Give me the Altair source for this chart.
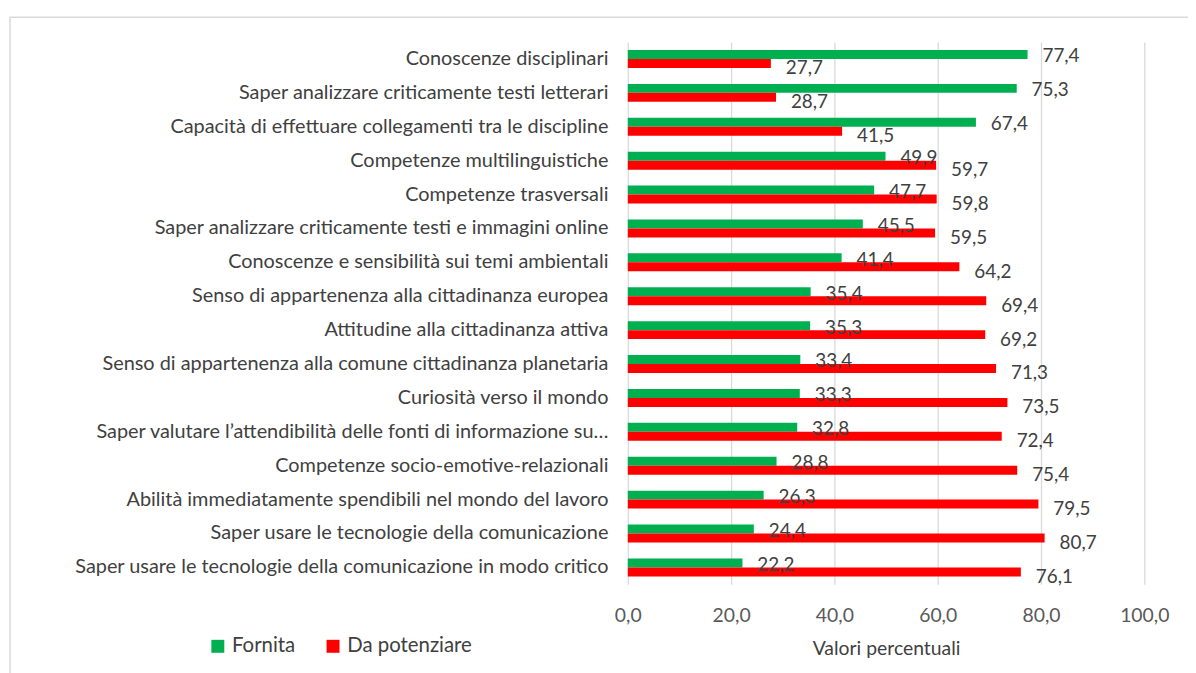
import altair as alt
import pandas as pd

categorie = [
    "Conoscenze disciplinari",
    "Saper analizzare criticamente testi letterari ",
    "Capacità di effettuare collegamenti tra le discipline",
    "Competenze multilinguistiche",
    "Competenze trasversali",
    "Saper analizzare criticamente testi e immagini online",
    "Conoscenze e sensibilità sui temi ambientali",
    "Senso di appartenenza alla cittadinanza europea",
    "Attitudine alla cittadinanza attiva ",
    "Senso di appartenenza alla comune cittadinanza planetaria",
    "Curiosità verso il mondo",
    "Saper valutare l’attendibilità delle fonti di informazione su…",
    "Competenze socio-emotive-relazionali ",
    "Abilità immediatamente spendibili nel mondo del lavoro",
    "Saper usare le tecnologie della comunicazione",
    "Saper usare le tecnologie della comunicazione in modo critico",
]
fornita = [77.4, 75.3, 67.4, 49.9, 47.7, 45.5, 41.4, 35.4, 35.3, 33.4, 33.3, 32.8, 28.8, 26.3, 24.4, 22.2]
da_potenziare = [27.7, 28.7, 41.5, 59.7, 59.8, 59.5, 64.2, 69.4, 69.2, 71.3, 73.5, 72.4, 75.4, 79.5, 80.7, 76.1]
serie = ["Fornita", "Da potenziare"]
colori = ["#00B050", "#FF0000"]
tick_valori = [0, 20, 40, 60, 80, 100]

rows = []
for c, f, d in zip(categorie, fornita, da_potenziare):
    rows.append({"cat": c, "serie": serie[0], "val": f})
    rows.append({"cat": c, "serie": serie[1], "val": d})
df = pd.DataFrame(rows)

FONT = "Lato"
W, H = 520, 546

base = alt.Chart(df).transform_calculate(
    lab="replace(format(datum.val, '.1f'), '.', ',')"
)

y_enc = alt.Y(
    "cat:N",
    sort=categorie,
    scale=alt.Scale(paddingInner=0.47, paddingOuter=0.235),
    axis=alt.Axis(
        title=None, labelFont=FONT, labelFontSize=20, labelColor="#404040",
        labelPadding=20, ticks=False, domain=False, labelLimit=700, grid=False,
    ),
)
yoff = alt.YOffset("serie:N", sort=serie, scale=alt.Scale(domain=serie, paddingInner=0, paddingOuter=0))
x_enc = alt.X(
    "val:Q",
    scale=alt.Scale(domain=[0, 100], nice=False),
    axis=alt.Axis(
        values=tick_valori,
        labelExpr="replace(format(datum.value, '.1f'), '.', ',')",
        labelFlush=False,
        title="Valori percentuali",
        titleFont=FONT, titleFontSize=19.5, titleFontWeight="normal", titleColor="#404040",
        titlePadding=15,
        labelFont=FONT, labelFontSize=19.5, labelColor="#595959", labelPadding=22,
        ticks=False, domain=False, grid=True, gridColor="#d9d9d9", gridWidth=1.3,
    ),
)
color_enc = alt.Color(
    "serie:N",
    sort=serie,
    scale=alt.Scale(domain=serie, range=colori),
    legend=alt.Legend(
        orient="none", legendX=-423, legendY=598, direction="horizontal", title=None,
        symbolType="square", symbolSize=170, symbolStrokeWidth=0,
        labelFont=FONT, labelFontSize=20.5, labelColor="#404040", columnPadding=27,
        labelOffset=4, padding=0,
    ),
)

bars = base.mark_bar().encode(y=y_enc, yOffset=yoff, x=x_enc, color=color_enc)

txt_f = base.transform_filter(alt.datum.serie == serie[0]).mark_text(
    align="left", baseline="middle", dx=15, dy=2, font=FONT, fontSize=19, color="#404040"
).encode(y=alt.Y("cat:N", sort=categorie), yOffset=yoff, x="val:Q", text="lab:N")
txt_d = base.transform_filter(alt.datum.serie == serie[1]).mark_text(
    align="left", baseline="middle", dx=15, dy=5, font=FONT, fontSize=19, color="#404040"
).encode(y=alt.Y("cat:N", sort=categorie), yOffset=yoff, x="val:Q", text="lab:N")

border = alt.Chart(pd.DataFrame({"a": [0]})).mark_rect(
    fillOpacity=0, stroke="#d9d9d9", strokeWidth=1.5
).encode(x=alt.value(-622), x2=alt.value(580), y=alt.value(-25), y2=alt.value(650))

chart = alt.layer(border, bars, txt_f, txt_d).properties(
    width=W, height=H,
    autosize=alt.AutoSizeParams(type="none"),
    padding={"left": 624, "top": 32, "right": 44, "bottom": 87},
).configure(background="white").configure_view(strokeWidth=0)

chart.save("out.html", embed_options={"renderer": "svg", "actions": False})
